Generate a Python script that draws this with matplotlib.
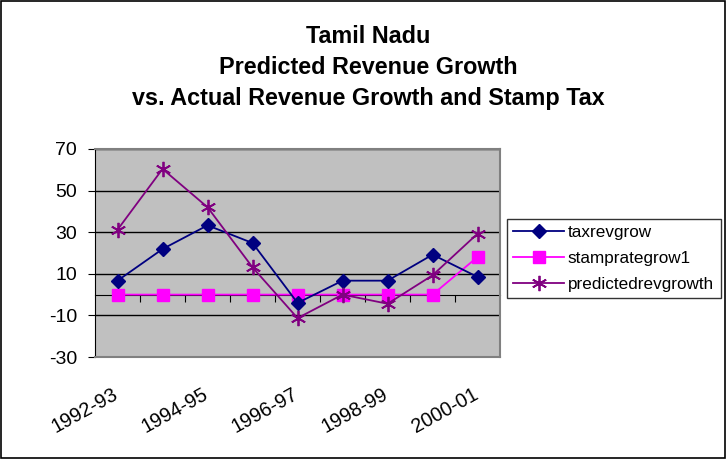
import numpy as np
import matplotlib.pyplot as plt
from matplotlib.patches import Rectangle
from matplotlib.transforms import ScaledTranslation

plt.rcParams['font.family'] = ['Liberation Sans', 'DejaVu Sans']
plt.rcParams['axes.unicode_minus'] = False

# -------------------------------
# Data
# -------------------------------

years = ["1992-93", "1993-94", "1994-95", "1995-96", "1996-97",
         "1997-98", "1998-99", "1999-00", "2000-01"]

taxrevgrow = [6.7, 21.9, 33.3, 24.8, -4.0, 6.7, 6.7, 19.2, 8.5]
stamprategrow1 = [0, 0, 0, 0, 0, 0, 0, 0, 18.1]
predictedrevgrowth = [31.2, 60.4, 42.0, 13.1, -11.3, 0.0, -4.4, 9.3, 29.3]

# -------------------------------
# Figure
# -------------------------------

fig = plt.figure(figsize=(7.26, 4.59), dpi=100)
fig.patches.append(Rectangle((0.001, 0.002), 0.997, 0.996, transform=fig.transFigure,
                             fill=False, edgecolor="black", linewidth=1.2))

ax = fig.add_axes([0.1309, 0.2222, 0.5579, 0.4532])
ax.set_facecolor("#C0C0C0")

x = np.arange(len(years))

ax.plot(x, taxrevgrow, color="#000080", marker="D", markersize=7,
        linewidth=1.3, label="taxrevgrow", zorder=4)
ax.plot(x, stamprategrow1, color="#FF00FF", marker="s", markersize=9,
        linewidth=1.3, label="stamprategrow1", zorder=3)
ax.plot(x, predictedrevgrowth, color="#800080", marker=(6, 2, 0), markersize=11,
        markeredgewidth=1.3, linewidth=1.3, label="predictedrevgrowth", zorder=5)

ax.set_xlim(-0.5, len(years) - 0.5)
ax.set_ylim(-30, 70)
ax.set_yticks(np.arange(-30, 71, 20))
ax.yaxis.grid(True, color="black", linewidth=1)
ax.set_axisbelow(True)

for side in ["top", "right", "bottom"]:
    ax.spines[side].set_color("#808080")
    ax.spines[side].set_linewidth(1.5)
ax.spines["left"].set_color("black")
ax.tick_params(axis="y", direction="out", length=5, labelsize=14, pad=8)

# category labels at the bottom, every other one shown
ax.set_xticks(x)
ax.set_xticklabels([y if i % 2 == 0 else "" for i, y in enumerate(years)],
                   rotation=29, ha="right", rotation_mode="anchor", fontsize=14.3)
ax.tick_params(axis="x", length=0, pad=20)
shift = ScaledTranslation(-4 / 72, 0, fig.dpi_scale_trans)
for lab in ax.get_xticklabels():
    lab.set_transform(lab.get_transform() + shift)

# category axis crossing at zero with ticks between categories
zero_pos = (0 - (-30)) / 100
sec = ax.secondary_xaxis(zero_pos)
sec.set_xticks(np.arange(0.5, len(years) - 0.5, 1))
sec.set_xticklabels([])
sec.tick_params(direction="out", length=5, color="black")
sec.spines["bottom"].set_color("black")

# title
fig.text(0.507, 0.945, "Tamil Nadu\nPredicted Revenue Growth\nvs. Actual Revenue Growth and Stamp Tax",
         ha="center", va="top", fontsize=16.8, fontweight="bold", linespacing=1.44)

leg = ax.legend(loc="center left", bbox_to_anchor=(0.698, 0.437),
                bbox_transform=fig.transFigure, fontsize=12.3, frameon=True,
                fancybox=False, borderaxespad=0, handlelength=3.0,
                labelspacing=0.63, borderpad=0.38, handletextpad=0.2)
leg.get_frame().set_edgecolor("black")
leg.get_frame().set_linewidth(1)

fig.savefig("out.png", dpi=100, facecolor="white")
